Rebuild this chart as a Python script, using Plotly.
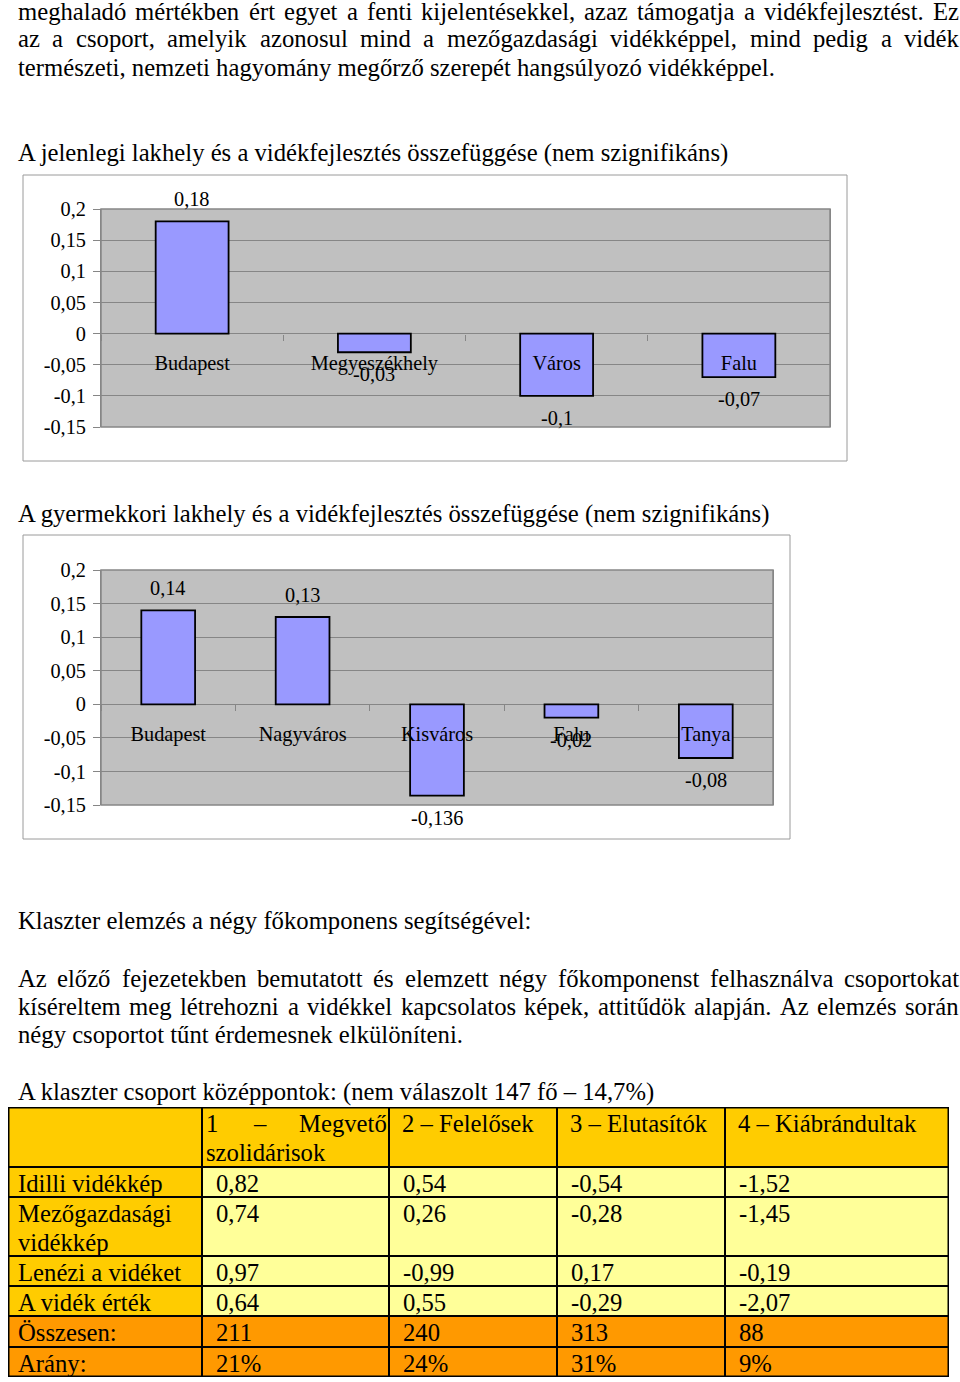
import plotly.graph_objects as go

W, H = 960, 1382
FONT = "Liberation Serif"
FS = 24.7        # body text size
TICK_FS = 20.3   # chart text size

# ---------------- data ----------------
chart1_title = "A jelenlegi lakhely és a vidékfejlesztés összefüggése (nem szignifikáns)"
chart1_categories = ["Budapest", "Megyeszékhely", "Város", "Falu"]
chart1_values = [0.18, -0.03, -0.1, -0.07]

chart2_title = "A gyermekkori lakhely és a vidékfejlesztés összefüggése (nem szignifikáns)"
chart2_categories = ["Budapest", "Nagyváros", "Kisváros", "Falu", "Tanya"]
chart2_values = [0.14, 0.13, -0.136, -0.02, -0.08]

y_tick_values = [-0.15, -0.1, -0.05, 0, 0.05, 0.1, 0.15, 0.2]
y_tick_labels = ["-0,15", "-0,1", "-0,05", "0", "0,05", "0,1", "0,15", "0,2"]
y_range = [-0.15, 0.2]

table_title = "A klaszter csoport középpontok: (nem válaszolt 147 fő – 14,7%)"
cluster_headers = ["", "1 – Megvető szolidárisok", "2 – Felelősek", "3 – Elutasítók", "4 – Kiábrándultak"]
row_labels = ["Idilli vidékkép", "Mezőgazdasági vidékkép", "Lenézi a vidéket",
              "A vidék érték", "Összesen:", "Arány:"]
idilli_videkkep = [0.82, 0.54, -0.54, -1.52]
mezogazdasagi_videkkep = [0.74, 0.26, -0.28, -1.45]
lenezi_a_videket = [0.97, -0.99, 0.17, -0.19]
a_videk_ertek = [0.64, 0.55, -0.29, -2.07]
osszesen = [211, 240, 313, 88]
arany_pct = [21, 24, 31, 9]

# page text: (center y, text, justified?)
page_lines = [
    (11.5, "meghaladó mértékben ért egyet a fenti kijelentésekkel, azaz támogatja a vidékfejlesztést. Ez", True),
    (39, "az a csoport, amelyik azonosul mind a mezőgazdasági vidékképpel, mind pedig a vidék", True),
    (68, "természeti, nemzeti hagyomány megőrző szerepét hangsúlyozó vidékképpel.", False),
    (153, chart1_title, False),
    (514, chart2_title, False),
    (920, "Klaszter elemzés a négy főkomponens segítségével:", False),
    (978, "Az előző fejezetekben bemutatott és elemzett négy főkomponenst felhasználva csoportokat", True),
    (1006, "kíséreltem meg létrehozni a vidékkel kapcsolatos képek, attitűdök alapján. Az elemzés során", True),
    (1034, "négy csoportot tűnt érdemesnek elkülöníteni.", False),
    (1092, table_title, False),
]

# Times-compatible advance widths (1/1000 em) used for justification
ADV = {" ": 250, "a": 444, "b": 500, "c": 444, "d": 500, "e": 444, "f": 333, "g": 500, "h": 500,
       "i": 278, "j": 278, "k": 500, "l": 278, "m": 778, "n": 500, "o": 500, "p": 500, "q": 500,
       "r": 333, "s": 389, "t": 278, "u": 500, "v": 500, "w": 722, "x": 500, "y": 500, "z": 444,
       "á": 444, "é": 444, "í": 278, "ó": 500, "ö": 500, "ő": 500, "ú": 500, "ü": 500, "ű": 500,
       "A": 722, "E": 611, "K": 722, "M": 889, "Ö": 722, "I": 333, "L": 611,
       ",": 250, ".": 250, ":": 278, "–": 500, "(": 333, ")": 333, "%": 833}


def text_w(s, fs):
    return sum(ADV.get(ch, 500) for ch in s) / 1000.0 * fs


def justify(text, x0, x1, fs):
    words = text.split(" ")
    ws = [text_w(w, fs) for w in words]
    gap = (x1 - x0 - sum(ws)) / max(len(words) - 1, 1)
    out, x = [], x0
    for w, wd in zip(words, ws):
        out.append((x, w))
        x += wd + gap
    return out


def px(x):
    return x / W


def py(y):
    return 1 - y / H


def fmt(v):
    return str(v).replace(".", ",")


BAR = "#9999FF"
GRID = "#868686"

fig = go.Figure()

fig.add_trace(go.Bar(x=chart1_categories, y=chart1_values, xaxis="x", yaxis="y",
                     marker=dict(color=BAR, line=dict(color="black", width=1.8)),
                     showlegend=False, hoverinfo="skip"))
fig.add_trace(go.Bar(x=chart2_categories, y=chart2_values, xaxis="x2", yaxis="y2",
                     marker=dict(color=BAR, line=dict(color="black", width=1.8)),
                     showlegend=False, hoverinfo="skip"))

c1_dom_x = [px(101), px(830)]
c1_dom_y = [py(427), py(209)]
c2_dom_x = [px(101), px(773)]
c2_dom_y = [py(805), py(570)]


def zero_pos(dom):
    return dom[0] + (0 - y_range[0]) / (y_range[1] - y_range[0]) * (dom[1] - dom[0])


yaxis_common = dict(range=y_range, tickvals=y_tick_values, ticktext=y_tick_labels,
                    showgrid=True, gridcolor=GRID, gridwidth=1,
                    zeroline=True, zerolinecolor=GRID, zerolinewidth=1,
                    showline=True, linecolor=GRID, mirror=True,
                    ticks="outside", ticklen=7, tickcolor=GRID, ticklabelstandoff=3,
                    tickfont=dict(family=FONT, size=TICK_FS, color="black"),
                    automargin=False, fixedrange=True)
xaxis_common = dict(type="category", anchor="free", showgrid=False, zeroline=False,
                    showline=False, ticks="outside", ticklen=6, tickcolor=GRID,
                    tickson="boundaries", ticklabelstandoff=15,
                    tickfont=dict(family=FONT, size=TICK_FS, color="black"),
                    automargin=False, fixedrange=True)

# ---------------- table (heatmap bricks on a pixel-unit axis) ----------------
GOLD, LIGHT, ORANGE = "#FFCC00", "#FFFF99", "#FF9900"
col_widths = [194, 187, 168, 168, 224]
row_heights = [60, 30, 59, 30, 30, 31, 30]
tbl_left, tbl_top = 8, 1107
col_edges = [sum(col_widths[:i]) for i in range(len(col_widths) + 1)]
row_edges = [sum(row_heights[:i]) for i in range(len(row_heights) + 1)]
tbl_w, tbl_h = col_edges[-1], row_edges[-1]

value_rows = [idilli_videkkep, mezogazdasagi_videkkep, lenezi_a_videket, a_videk_ertek]
body_rows = [[row_labels[i]] + [f"{v:.2f}".replace(".", ",") for v in r] for i, r in enumerate(value_rows)]
body_rows.append([row_labels[4]] + [str(v) for v in osszesen])
body_rows.append([row_labels[5]] + [f"{v}%" for v in arany_pct])

# colour codes: 0 gold, 1 light yellow, 2 orange
z = [[0] * 5]
for i in range(len(value_rows)):
    z.append([0] + [1] * 4)
z.append([2] * 5)
z.append([2] * 5)

fig.add_trace(go.Heatmap(
    x=col_edges, y=row_edges, z=z, xaxis="x3", yaxis="y3", zmin=0, zmax=2,
    colorscale=[[0, GOLD], [0.333, GOLD], [0.333, LIGHT], [0.666, LIGHT], [0.666, ORANGE], [1, ORANGE]],
    showscale=False, xgap=2, ygap=2, hoverinfo="skip"))

fig.update_layout(
    xaxis=dict(domain=c1_dom_x, position=zero_pos(c1_dom_y), **xaxis_common),
    yaxis=dict(domain=c1_dom_y, anchor="x", **yaxis_common),
    xaxis2=dict(domain=c2_dom_x, position=zero_pos(c2_dom_y), **xaxis_common),
    yaxis2=dict(domain=c2_dom_y, anchor="x2", **yaxis_common),
    xaxis3=dict(domain=[px(tbl_left), px(tbl_left + tbl_w)], range=[0, tbl_w], visible=False,
                anchor="y3", automargin=False, fixedrange=True),
    yaxis3=dict(domain=[py(tbl_top + tbl_h), py(tbl_top)], range=[tbl_h, 0], visible=False,
                anchor="x3", automargin=False, fixedrange=True),
    bargap=0.6,
)

annotations = []
# bar data labels
for cats, vals, xr, yr in [(chart1_categories, chart1_values, "x", "y"),
                           (chart2_categories, chart2_values, "x2", "y2")]:
    for c, v in zip(cats, vals):
        annotations.append(dict(x=c, y=v, xref=xr, yref=yr, text=fmt(v), showarrow=False,
                                yanchor="middle", yshift=22 if v >= 0 else -22,
                                font=dict(family=FONT, size=TICK_FS, color="black")))

TXT = dict(family=FONT, size=FS, color="black")
for y, t, just in page_lines:
    pieces = justify(t, 16, 957, FS) if just else [(16, t)]
    for x, w in pieces:
        annotations.append(dict(x=px(x), y=py(y), xref="paper", yref="paper", text=w,
                                showarrow=False, xanchor="left", yanchor="middle", font=TXT))


def cell_text(x, y, s):
    annotations.append(dict(x=x, y=y, xref="x3", yref="y3", text=s, showarrow=False,
                            xanchor="left", yanchor="middle", font=TXT))


LINE = 29
# header row
for j, h in enumerate(cluster_headers):
    if not h:
        continue
    if j == 1:
        x0 = col_edges[j] + 2
        first, second = "1 – Megvető", "szolidárisok"
        for x, w in justify(first, x0, col_edges[j + 1] - 4, FS):
            cell_text(x, 16, w)
        cell_text(x0, 16 + LINE, second)
    else:
        cell_text(col_edges[j] + 11, 16, h)
# body rows
for i, row in enumerate(body_rows):
    top = row_edges[i + 1]
    for j, s in enumerate(row):
        x0 = col_edges[j] + (8 if j == 0 else 12)
        if j == 0 and s.startswith("Mezőgazdasági "):
            cell_text(x0, top + 16, "Mezőgazdasági")
            cell_text(x0, top + 16 + LINE, "vidékkép")
        else:
            cell_text(x0, top + 16, s)

fig.update_layout(annotations=annotations)

shapes = [
    dict(type="rect", xref="paper", yref="paper", x0=px(23), x1=px(847), y0=py(461), y1=py(175),
         line=dict(color="#9a9a9a", width=1), layer="below"),
    dict(type="rect", xref="paper", yref="paper", x0=px(23), x1=px(790), y0=py(839), y1=py(535),
         line=dict(color="#9a9a9a", width=1), layer="below"),
    dict(type="rect", xref="x domain", yref="y domain", x0=0, x1=1, y0=0, y1=1,
         line=dict(color=GRID, width=1.5)),
    dict(type="rect", xref="x2 domain", yref="y2 domain", x0=0, x1=1, y0=0, y1=1,
         line=dict(color=GRID, width=1.5)),
    # black under the table bricks shows through the gaps as cell borders
    dict(type="rect", xref="x3", yref="y3", x0=0, x1=tbl_w, y0=0, y1=tbl_h,
         fillcolor="black", line=dict(width=0), layer="below"),
    dict(type="rect", xref="x3", yref="y3", x0=0, x1=tbl_w, y0=0, y1=tbl_h,
         line=dict(color="black", width=3)),
]
fig.update_layout(shapes=shapes)

fig.update_layout(
    width=W, height=H, margin=dict(l=0, r=0, t=0, b=0, pad=0, autoexpand=False),
    paper_bgcolor="white", plot_bgcolor="#C0C0C0",
    separators=", ", showlegend=False,
    font=dict(family=FONT, color="black"),
)

fig.write_html("out.html")
